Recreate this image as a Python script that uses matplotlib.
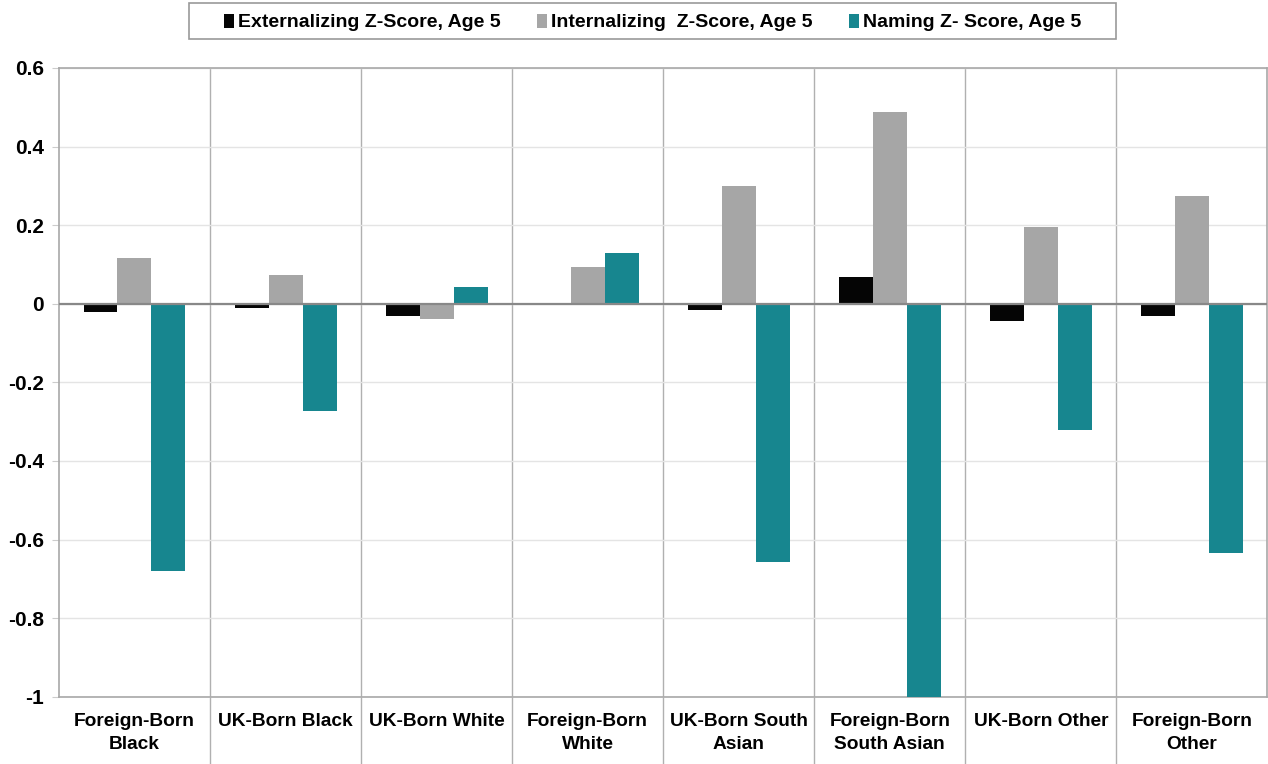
import matplotlib.pyplot as plt
from matplotlib.patches import Rectangle
import numpy as np

plt.rcParams['font.family'] = ['Liberation Sans', 'DejaVu Sans']
plt.rcParams['font.weight'] = 'bold'

# Groups and z-scores
groups = ['Foreign-Born\nBlack', 'UK-Born Black', 'UK-Born White', 'Foreign-Born\nWhite',
          'UK-Born South\nAsian', 'Foreign-Born\nSouth Asian', 'UK-Born Other', 'Foreign-Born\nOther']
externalizing = [-0.020, -0.010, -0.031, -0.003, -0.017, 0.068, -0.045, -0.032]
internalizing = [0.117, 0.074, -0.038, 0.094, 0.300, 0.489, 0.196, 0.275]
naming = [-0.679, -0.272, 0.043, 0.130, -0.656, -1.000, -0.320, -0.634]

series_names = ['Externalizing Z-Score, Age 5', 'Internalizing  Z-Score, Age 5', 'Naming Z- Score, Age 5']
colors = ['#050505', '#a6a6a6', '#17868f']

fig = plt.figure(figsize=(12.68, 7.64), dpi=100)
ax = fig.add_axes([0.0465, 0.088, 0.953, 0.823])

x = np.arange(len(groups))
w = 0.225
for i, (vals, name, c) in enumerate(zip([externalizing, internalizing, naming], series_names, colors)):
    ax.bar(x + (i - 1) * w, vals, w, color=c, label=name, zorder=3)

ax.set_xlim(-0.5, len(groups) - 0.5)
ax.set_ylim(-1, 0.6)
ax.set_yticks(np.arange(-1, 0.61, 0.2))
ax.set_yticklabels(['-1', '-0.8', '-0.6', '-0.4', '-0.2', '0', '0.2', '0.4', '0.6'])
ax.yaxis.grid(True, color='#e4e4e4', lw=1, zorder=0)
ax.axhline(0, color='#888888', lw=1.6, zorder=4)

# category separators reaching down through the label area
ax.set_xticks(x)
ax.set_xticklabels(groups, fontsize=13.8, fontweight='bold', linespacing=1.45)
ax.set_xticks(np.arange(0.5, len(groups) - 1, 1), minor=True)
ax.xaxis.grid(True, which='minor', color='#b0b0b0', lw=1, zorder=1)
ax.tick_params(axis='x', which='major', length=0, pad=12)
ax.tick_params(axis='x', which='minor', length=49, color='#b0b0b0', width=1)
ax.tick_params(axis='y', length=5, color='#cccccc', labelsize=15, pad=6)
for lbl in ax.get_yticklabels():
    lbl.set_fontweight('bold')

for side in ['left', 'right', 'top', 'bottom']:
    ax.spines[side].set_color('#a8a8a8')
    ax.spines[side].set_linewidth(1.2)

# legend without its own frame, boxed by a wider rectangle
leg = fig.legend(loc='center', bbox_to_anchor=(0.5146, 0.9705), ncol=3, frameon=False,
                 fontsize=14, handlelength=0.5, handleheight=0.75, handletextpad=0.2,
                 columnspacing=1.9)
for t in leg.get_texts():
    t.set_fontweight('bold')
fig.patches.append(Rectangle((189 / 1268, 1 - 39 / 764), 927 / 1268, 36 / 764,
                             transform=fig.transFigure, fill=False,
                             edgecolor='#999999', lw=1.2))

fig.savefig('out.png', dpi=100)
